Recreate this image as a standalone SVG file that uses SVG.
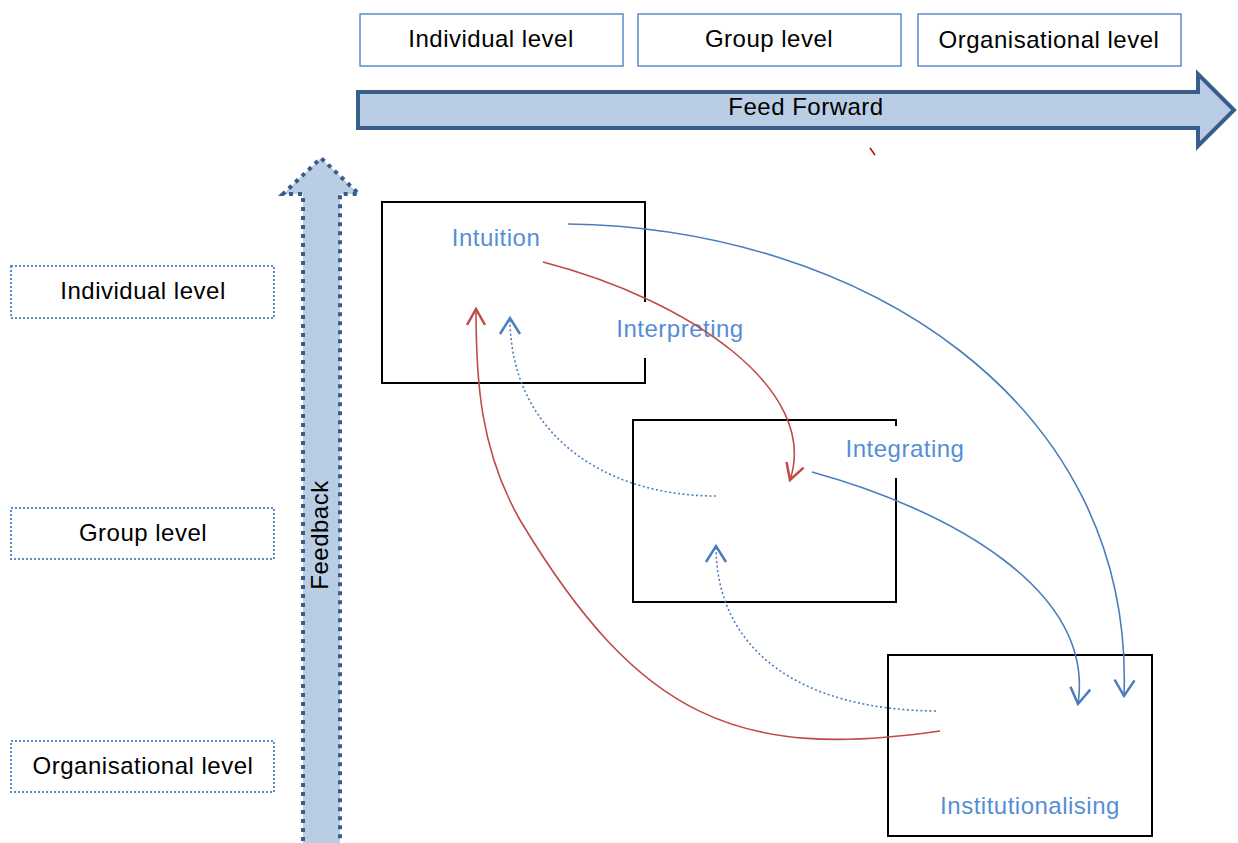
<svg xmlns="http://www.w3.org/2000/svg" width="1238" height="843" viewBox="0 0 1238 843">
  <style>
    .lbl { font-family: "Liberation Sans", Arial, sans-serif; font-size: 24px; letter-spacing: 0.5px; fill: #000; text-anchor: middle; }
    .blue { fill: #558ed5; }
    .top { fill: #fff; stroke: #5b8cc8; stroke-width: 1.5; }
    .side { fill: #fff; stroke: #5b8cc8; stroke-width: 2; stroke-dasharray: 2 2; }
    .edge { stroke: #000; stroke-width: 2; fill: none; }
    .cb { fill: none; stroke: #4a7ebb; stroke-width: 1.6; }
    .cr { fill: none; stroke: #be4b48; stroke-width: 1.6; }
    .dot { stroke-dasharray: 2 2.5; }
  </style>
  <defs>
    <marker id="ab" viewBox="0 0 24 24" refX="17" refY="12" markerWidth="24" markerHeight="24" markerUnits="userSpaceOnUse" orient="auto">
      <path d="M1,2 L17,12 L1,22" fill="none" stroke="#4a7ebb" stroke-width="2.5"/>
    </marker>
    <marker id="ar" viewBox="0 0 24 24" refX="17" refY="12" markerWidth="24" markerHeight="24" markerUnits="userSpaceOnUse" orient="auto">
      <path d="M1,3 L17,12 L1,21" fill="none" stroke="#be4b48" stroke-width="2.5"/>
    </marker>
  </defs>

  <!-- feed-forward arrow -->
  <g id="feed-forward">
    <path d="M358,92 L1198,92 L1198,74 L1234,110 L1198,146 L1198,128 L358,128 Z" fill="#b9cde5" stroke="#385d8a" stroke-width="4" stroke-linejoin="miter"/>
    <text class="lbl" x="806" y="115">Feed Forward</text>
  </g>

  <!-- feedback arrow -->
  <g id="feedback">
    <path d="M303,850 L303,194 L283,194 L321,158 L359,194 L340,194 L340,850" fill="#b9cde5" stroke="#385d8a" stroke-width="4" stroke-dasharray="4 5"/>
    <text class="lbl" transform="translate(328,535) rotate(-90)">Feedback</text>
  </g>

  <!-- column headers -->
  <g id="col-individual"><rect class="top" x="360" y="14" width="263" height="52"/><text class="lbl" x="491" y="47">Individual level</text></g>
  <g id="col-group"><rect class="top" x="638" y="14" width="263" height="52"/><text class="lbl" x="769" y="47">Group level</text></g>
  <g id="col-organisational"><rect class="top" x="918" y="14" width="263" height="52"/><text class="lbl" x="1049" y="48">Organisational level</text></g>

  <!-- row headers -->
  <g id="row-individual"><rect class="side" x="11" y="266" width="263" height="52"/><text class="lbl" x="143" y="299">Individual level</text></g>
  <g id="row-group"><rect class="side" x="11" y="508" width="263" height="51"/><text class="lbl" x="143" y="541">Group level</text></g>
  <g id="row-organisational"><rect class="side" x="11" y="741" width="263" height="51"/><text class="lbl" x="143" y="774">Organisational level</text></g>

  <!-- process boxes -->
  <g id="intuition">
    <path class="edge" d="M645,302 L645,202 L382,202 L382,383 L645,383 L645,358"/>
    <text class="lbl blue" x="496" y="246">Intuition</text>
  </g>
  <g id="interpreting">
    <text class="lbl blue" x="680" y="337">Interpreting</text>
  </g>
  <g id="integrating">
    <path class="edge" d="M896,426 L896,420 L633,420 L633,602 L896,602 L896,478"/>
    <text class="lbl blue" x="905" y="457">Integrating</text>
  </g>
  <g id="institutionalising">
    <rect class="edge" x="888" y="655" width="264" height="181"/>
    <text class="lbl blue" x="1030" y="814">Institutionalising</text>
  </g>

  <!-- connectors -->
  <g id="connectors">
    <path class="cb" d="M568,224 C860,228 1135,400 1124,696" marker-end="url(#ab)"/>
    <path class="cr" d="M543,262 C690,300 820,390 790,480" marker-end="url(#ar)"/>
    <path class="cb" d="M812,472 C950,510 1095,590 1078,704" marker-end="url(#ab)"/>
    <path class="cr" d="M940,731 C740,760 640,720 520,520 C480,450 476,380 476,309" marker-end="url(#ar)"/>
    <path class="cb dot" d="M716,496 C600,496 510,430 510,318" marker-end="url(#ab)"/>
    <path class="cb dot" d="M936,711 C800,710 716,650 716,546" marker-end="url(#ab)"/>
    <path d="M870,148 L875,155" stroke="#c00000" stroke-width="1.5"/>
  </g>
</svg>
